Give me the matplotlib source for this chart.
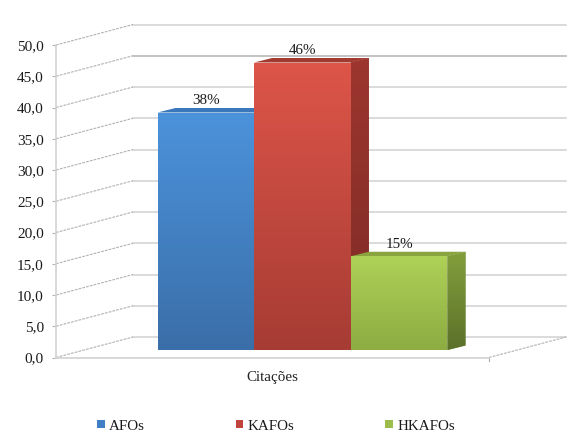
import numpy as np
import matplotlib
matplotlib.use("Agg")
import matplotlib.pyplot as plt
from matplotlib.colors import to_rgb
from matplotlib.patches import Polygon, Patch
from matplotlib.transforms import Affine2D, IdentityTransform
from matplotlib.ticker import FuncFormatter

series = ["AFOs", "KAFOs", "HKAFOs"]
values = [38, 46, 15]
labels = ["38%", "46%", "15%"]
category = "Citações"

front_cols = [("#4c93dc", "#3a6ea8"), ("#de5549", "#a63c34"), ("#afd257", "#8cab42")]
side_cols = [("#2f5f96", "#264d7a"), ("#9c362e", "#7e2b26"), ("#83a03d", "#5b7029")]
top_cols = ["#3a78bb", "#a33a30", "#8aa540"]
legend_cols = ["#3f7fc4", "#c0443c", "#9cbc4c"]

W, H = 578, 442
plt.rcParams["font.family"] = ["Liberation Serif", "DejaVu Serif"]
fig = plt.figure(figsize=(W / 100, H / 100), dpi=100)
L, R, B, T = 56, 489, 442 - 357.5, 442 - 45
ax = fig.add_axes([L / W, B / H, (R - L) / W, (T - B) / H])
ax.set_xlim(-1.24, 3.24)
ax.set_ylim(0, 50)
ax.set_autoscale_on(False)
ax.patch.set_alpha(0)

for s in ("top", "right"):
    ax.spines[s].set_visible(False)
for s in ("left", "bottom"):
    ax.spines[s].set_color("#d2d2d2")
    ax.spines[s].set_linewidth(1.2)

yticks = np.arange(0, 51, 5)
ax.set_yticks(yticks)
ax.yaxis.set_major_formatter(FuncFormatter(lambda v, _: f"{v:.1f}".replace(".", ",")))
ax.set_xticks([1])
ax.set_xticklabels([category])
ax.tick_params(axis="y", length=3, width=0.8, color="#b5b5b5", labelsize=11,
               labelcolor="#1a1a1a", pad=5.8)
ax.tick_params(axis="x", length=0, labelsize=10.8, labelcolor="#222222", pad=9.5)

BACK = (77, 20.5)
back = ax.transData + Affine2D().translate(*BACK)
xmin, xmax = ax.get_xlim()
for v in yticks:
    col = "#b9b9b9" if v == 45 else "#d4d4d4"
    ax.plot([xmin, xmax], [v, v], transform=back, color=col, lw=1.2, zorder=1, clip_on=False)
    p0 = ax.transData.transform((xmin, v))
    ax.plot([p0[0], p0[0] + BACK[0]], [p0[1], p0[1] + BACK[1]], transform=IdentityTransform(),
            color="#b2b2b2", lw=0.8, ls=(0, (2.5, 1)), zorder=1, clip_on=False)
pe = ax.transData.transform((xmax, 0))
ax.plot([pe[0], pe[0] + BACK[0]], [pe[1], pe[1] + BACK[1]], transform=IdentityTransform(),
        color="#b2b2b2", lw=0.8, ls=(0, (2.5, 1)), zorder=1, clip_on=False)
ax.plot([pe[0], pe[0]], [pe[1], pe[1] - 3], transform=IdentityTransform(),
        color="#a8a8a8", lw=0.8, zorder=1, clip_on=False)

FRONT = (30, 7.5)
DEPTH = (18, 4.5)


def face(poly, top, bottom, z):
    poly = np.asarray(poly)
    t, b = np.array(to_rgb(top)), np.array(to_rgb(bottom))
    ax.add_patch(Polygon(poly, closed=True, transform=IdentityTransform(),
                         facecolor=(t + b) / 2, edgecolor="none", zorder=z, clip_on=False))
    frac = np.linspace(0, 1, 128)[:, None, None]
    grad = (1 - frac) * t[None, None, :] + frac * b[None, None, :]
    ext = (poly[:, 0].min() - 2, poly[:, 0].max() + 2, poly[:, 1].min() - 2, poly[:, 1].max() + 2)
    im = ax.imshow(grad, extent=ext, transform=IdentityTransform(), aspect="auto",
                   zorder=z, interpolation="nearest")
    clip = Polygon(poly, closed=True, transform=IdentityTransform())
    im.set_clip_path(clip)


bar_w = 1.0
for i, (name, val, lab) in enumerate(zip(series, values, labels)):
    x0, x1 = i - bar_w / 2, i + bar_w / 2
    z = 3 + i
    a, b2 = ax.transData.transform([(x0, 0), (x1, val)])
    fx0, fx1 = a[0] + FRONT[0], b2[0] + FRONT[0]
    fy0, fy1 = a[1] + FRONT[1], b2[1] + FRONT[1]
    dx, dy = DEPTH
    face([(fx1, fy0), (fx1 + dx, fy0 + dy), (fx1 + dx, fy1 + dy), (fx1, fy1)],
         side_cols[i][0], side_cols[i][1], z)
    ax.add_patch(Polygon([(fx0, fy1), (fx1, fy1), (fx1 + dx, fy1 + dy), (fx0 + dx, fy1 + dy)],
                         closed=True, transform=IdentityTransform(), facecolor=top_cols[i],
                         edgecolor="none", zorder=z, clip_on=False))
    face([(fx0, fy0), (fx1, fy0), (fx1, fy1), (fx0, fy1)],
         front_cols[i][0], front_cols[i][1], z + 0.5)
    ax.annotate(lab, xy=(i, val), xytext=(FRONT[0], FRONT[1] + 11.5),
                textcoords="offset pixels", ha="center", va="center",
                fontsize=10.8, color="#1a1a1a", zorder=10, annotation_clip=False)

handles = [Patch(facecolor=c, edgecolor="none") for c in legend_cols]
fig.legend(handles, series, ncol=3, loc="center left",
           bbox_to_anchor=(97 / W, 1 - 426 / H), frameon=False, fontsize=10.8,
           handlelength=0.5, handleheight=0.5, handletextpad=0.3, columnspacing=6.05,
           borderpad=0, borderaxespad=0, labelcolor="#1a1a1a")

fig.savefig("out.png", dpi=100, facecolor="white")
